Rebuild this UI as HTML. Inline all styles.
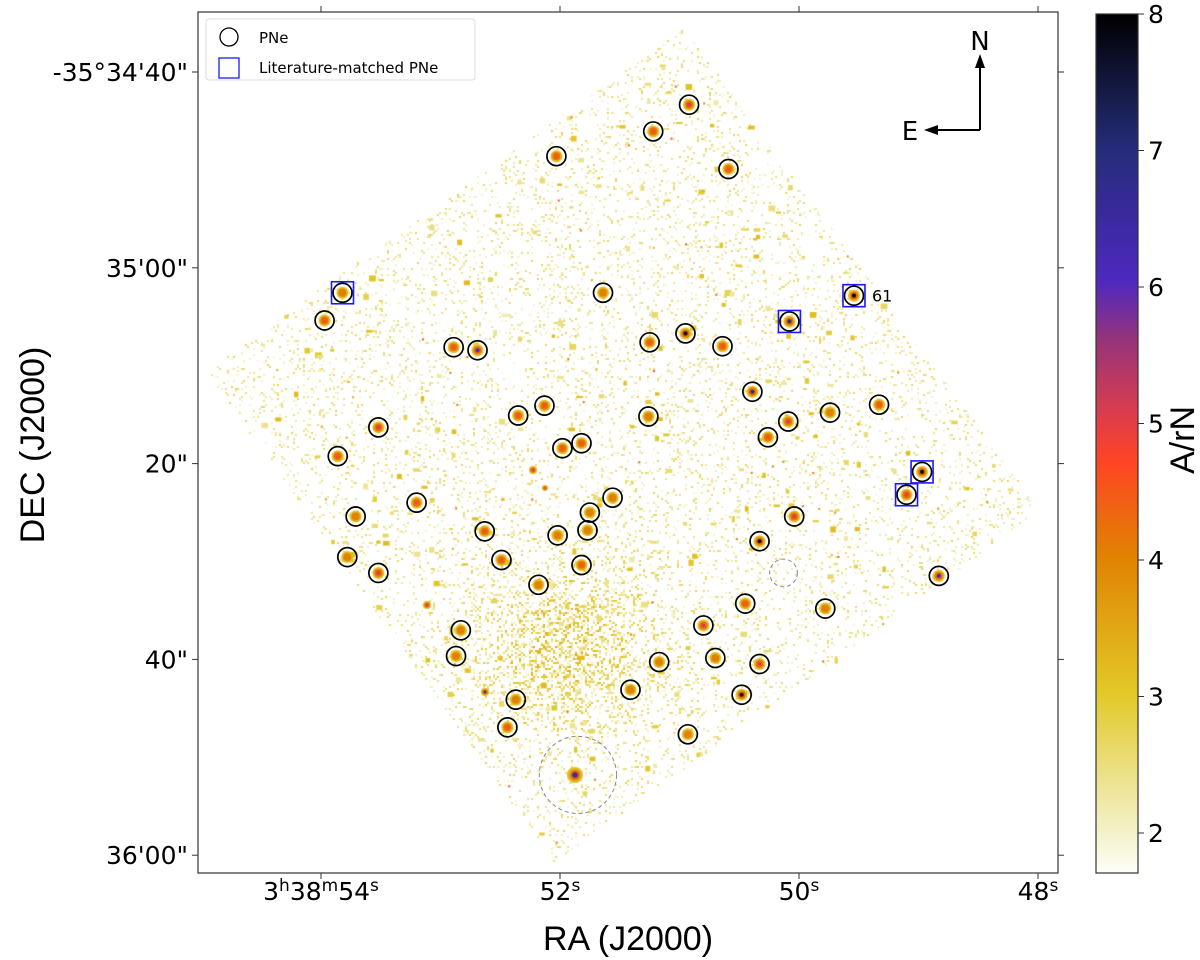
<!DOCTYPE html>
<html><head><meta charset="utf-8"><style>
body{margin:0;background:#fff;font-family:"DejaVu Sans","Liberation Sans",sans-serif}
#wrap{position:relative;width:1200px;height:960px}
canvas,svg{position:absolute;left:0;top:0}
</style></head><body>
<div id="wrap">
<canvas id="img" width="1200" height="960"></canvas>
<svg id="ov" width="1200" height="960" font-family="DejaVu Sans, Liberation Sans, sans-serif">
<defs><linearGradient id="cb" x1="0" y1="1" x2="0" y2="0">
<stop offset="0" stop-color="#fefef8"/><stop offset="0.05" stop-color="#f3f1c8"/>
<stop offset="0.21" stop-color="#e2c828"/><stop offset="0.37" stop-color="#e08200"/>
<stop offset="0.48" stop-color="#ff4424"/><stop offset="0.54" stop-color="#d83c50"/>
<stop offset="0.62" stop-color="#963478"/><stop offset="0.69" stop-color="#4e28c0"/>
<stop offset="0.845" stop-color="#242c78"/><stop offset="1" stop-color="#000000"/>
</linearGradient></defs>
</svg>
</div>
<script>
// ---- data ----
const raSec=[50.92,51.22,52.03,50.59,51.64,50.95,51.25,50.64,52.89,52.69,53.97,53.82,50.08,49.54,50.39,52.13,52.35,51.26,50.09,49.74,49.33,53.52,50.26,51.82,51.98,53.86,48.97,49.10,53.20,51.56,51.75,53.71,50.04,52.63,51.77,52.02,50.33,53.78,52.49,51.82,53.52,52.18,48.83,50.45,49.78,50.80,52.83,52.87,51.17,50.70,50.33,51.41,50.48,52.37,52.44,50.93];
const decSec=[43.34,46.07,48.60,49.91,62.55,66.70,67.61,68.01,68.11,68.42,65.38,62.55,65.48,62.85,72.66,74.08,75.09,75.19,75.70,74.79,73.98,76.30,77.31,77.92,78.43,79.24,80.85,83.18,83.99,83.48,85.00,85.40,85.40,86.92,86.82,87.33,87.93,89.55,89.85,90.36,91.17,92.38,91.47,94.30,94.81,96.53,97.03,99.66,100.27,99.86,100.47,103.10,103.61,104.11,106.94,107.65];
const peak=[5,4.5,4.5,4.5,4,8,4.5,4.5,4.5,6,4.5,4,7,8,7,4.5,4.5,4,5,4,4.5,5,4.5,4.5,4.5,4.5,8,5,4.5,4,4,4,5,4.5,4,4,8,4,4.5,4.5,5,4,6,4.5,4,5,4,4,4,4,5,4,8,4,4.5,4];
const litIdx=[11,12,13,26,27];
const dashedRa=[50.13,51.85], dashedDec=[91.17,111.80], dashedR=[1.4,3.9];
const raTicks=[54,52,50,48], raLabels=[["3","h","38","m","54","s"],["52","s"],["50","s"],["48","s"]];
const decTicks=[40,60,80,100,120], decLabels=["-35°34'40\"","35'00\"","20\"","40\"","36'00\""];
const cbTicks=[2,3,4,5,6,7,8];
// ---- axes ----
const X0=198,X1=1058,Y0=12,Y1=873;
const xS=ra=>560+(52-ra)*119.5;
const yS=d=>72+(d-40)*9.79;
const cbY=v=>14+(8-v)*136.5;
function cmap(v){const st=[[1.5,255,255,255],[2,243,241,200],[3,226,200,40],[4,224,130,0],[4.7,255,68,36],[5.1,216,60,80],[5.5,150,52,120],[6,78,40,192],[7,36,44,120],[8,0,0,0]];
 v=Math.max(1.5,Math.min(8,v));for(let i=1;i<st.length;i++){if(v<=st[i][0]){const a=st[i-1],b=st[i],t=(v-a[0])/(b[0]-a[0]);return `rgb(${a[1]+(b[1]-a[1])*t|0},${a[2]+(b[2]-a[2])*t|0},${a[3]+(b[3]-a[3])*t|0})`;}}return '#000';}
// ---- image texture ----
const c=document.getElementById('img').getContext('2d');
let s=12345;const rnd=()=>(s=(s*16807)%2147483647)/2147483647;
const P=[[683,28],[1040,510],[553,862],[205,370]];
function inside(x,y){let ins=false;for(let i=0,j=3;i<4;j=i++){const [xi,yi]=P[i],[xj,yj]=P[j];if(((yi>y)!=(yj>y))&&(x<(xj-xi)*(y-yi)/(yj-yi)+xi))ins=!ins;}return ins;}
for(let y=28;y<866;y+=2)for(let x=205;x<1041;x+=2){if(!inside(x,y))continue;
 const dx=x-565,dy=y-645;const boost=Math.exp(-(dx*dx+dy*dy*1.3)/7000)*0.35;
 if(rnd()<0.10+boost){c.fillStyle=cmap(1.8+rnd()*(0.9+boost*2.5));c.fillRect(x,y,2,2);}}
for(let k=0;k<520;k++){const x=205+rnd()*835,y=28+rnd()*837;if(!inside(x,y))continue;c.fillStyle=cmap(2.2+rnd()*1.0);c.fillRect(x,y,3+rnd()*4,2+rnd()*4);}
for(let k=0;k<140;k++){const x=205+rnd()*835,y=28+rnd()*837;if(!inside(x,y))continue;c.fillStyle=cmap(3.2+rnd()*1.5);c.fillRect(x,y,2,2);}
function blob(x,y,pk,r){c.fillStyle=cmap(3.2);c.beginPath();c.arc(x,y,r,0,7);c.fill();
 c.fillStyle=cmap(Math.min(pk,4.2));c.beginPath();c.arc(x,y,r*0.65,0,7);c.fill();
 c.fillStyle=cmap(pk);c.beginPath();c.arc(x,y,r*0.35,0,7);c.fill();}
raSec.forEach((r,i)=>blob(xS(r),yS(decSec[i]),peak[i],6));
blob(575,775,6.5,8);blob(485,692,6.5,4);blob(427,605,5,4);blob(533,470,5,4);blob(545,488,4.5,3);
// ---- SVG ----
const ov=document.getElementById('ov'),NS='http://www.w3.org/2000/svg';
function el(t,a,txt){const e=document.createElementNS(NS,t);for(const k in a)e.setAttribute(k,a[k]);if(txt!=null)e.textContent=txt;ov.appendChild(e);return e;}
let e;
e=el('rect',{x:X0,y:Y0,width:X1-X0,height:Y1-Y0,fill:'none',stroke:'#333','stroke-width':1.2});


raTicks.forEach((t,i)=>{const x=xS(t);
 e=el('line',{x1:x,x2:x,y1:Y1,y2:Y1+6,stroke:'#333'});
 
 
 e=el('line',{x1:x,x2:x,y1:Y0,y2:Y0-6,stroke:'#333'});
 
 
 const tx=el('text',{x:x,y:Y1+27,'text-anchor':'middle','font-size':25,fill:'#000'});
 
 
 const L=raLabels[i];for(let j=0;j<L.length;j+=2){const a=document.createElementNS(NS,'tspan');a.textContent=L[j];a.setAttribute('dy',j?9:0);tx.appendChild(a);const b=document.createElementNS(NS,'tspan');b.textContent=L[j+1];b.setAttribute('dy',-9);b.setAttribute('font-size',17);tx.appendChild(b);}
});
decTicks.forEach((t,i)=>{const y=yS(t);
 e=el('line',{x1:X0,x2:X0-6,y1:y,y2:y,stroke:'#333'});
 
 
 e=el('line',{x1:X1,x2:X1+6,y1:y,y2:y,stroke:'#333'});
 
 
 e=el('text',{x:X0-10,y:y+9,'text-anchor':'end','font-size':25,fill:'#000'},decLabels[i]);
 
 
});
e=el('text',{x:628,y:950,'text-anchor':'middle','font-size':34,'font-family':'Liberation Sans Narrow, Liberation Sans, sans-serif'},'RA (J2000)');


e=el('text',{x:0,y:0,'text-anchor':'middle','font-size':34,transform:'translate(44,445) rotate(-90)','font-family':'Liberation Sans Narrow, Liberation Sans, sans-serif'},'DEC (J2000)');


// PNe
raSec.forEach((r,i)=>{
 e=el('circle',{cx:xS(r),cy:yS(decSec[i]),r:9.5,fill:'none',stroke:'#000','stroke-width':1.7});
 
 
});
litIdx.forEach(i=>{
 e=el('rect',{x:xS(raSec[i])-11,y:yS(decSec[i])-11,width:22,height:22,fill:'none',stroke:'#1a1aff','stroke-width':1.6});
 
 
});
dashedRa.forEach((r,i)=>{
 e=el('circle',{cx:xS(r),cy:yS(dashedDec[i]),r:dashedR[i]*9.9,fill:'none',stroke:'#888','stroke-width':1,'stroke-dasharray':'4,3'});
 
 
});
e=el('text',{x:xS(raSec[13])+18,y:yS(decSec[13])+6,'font-size':16},'61');


// legend
e=el('rect',{x:206,y:19,width:269,height:61,rx:3,fill:'#fff','fill-opacity':0.85,stroke:'#ddd'});


e=el('circle',{cx:229,cy:37,r:9,fill:'none',stroke:'#000','stroke-width':1.3});


e=el('text',{x:259,y:43,'font-size':15},'PNe');


e=el('rect',{x:219,y:58,width:20,height:20,fill:'none',stroke:'#1a1aff','stroke-width':1.3});


e=el('text',{x:259,y:73,'font-size':15},'Literature-matched PNe');


// compass
e=el('line',{x1:980,y1:130,x2:980,y2:64,stroke:'#000','stroke-width':2});


e=el('polygon',{points:'980,54 975,68 985,68',fill:'#000'});


e=el('line',{x1:980,y1:130,x2:934,y2:130,stroke:'#000','stroke-width':2});


e=el('polygon',{points:'924,130 938,125 938,135',fill:'#000'});


e=el('text',{x:980,y:50,'text-anchor':'middle','font-size':26},'N');


e=el('text',{x:910,y:140,'text-anchor':'middle','font-size':26},'E');


// colorbar
e=el('rect',{x:1096,y:14,width:42,height:Y1-14,fill:'url(#cb)',stroke:'#333','stroke-width':1.2});


cbTicks.forEach(t=>{const y=cbY(t);
 e=el('line',{x1:1138,x2:1144,y1:y,y2:y,stroke:'#333'});
 
 
 e=el('text',{x:1148,y:y+9,'font-size':25},String(t));
 
 
});
e=el('text',{x:0,y:0,'text-anchor':'middle','font-size':34,transform:'translate(1194,440) rotate(-90)','font-family':'Liberation Sans Narrow, Liberation Sans, sans-serif'},'A/rN');


</script>
</body></html>
